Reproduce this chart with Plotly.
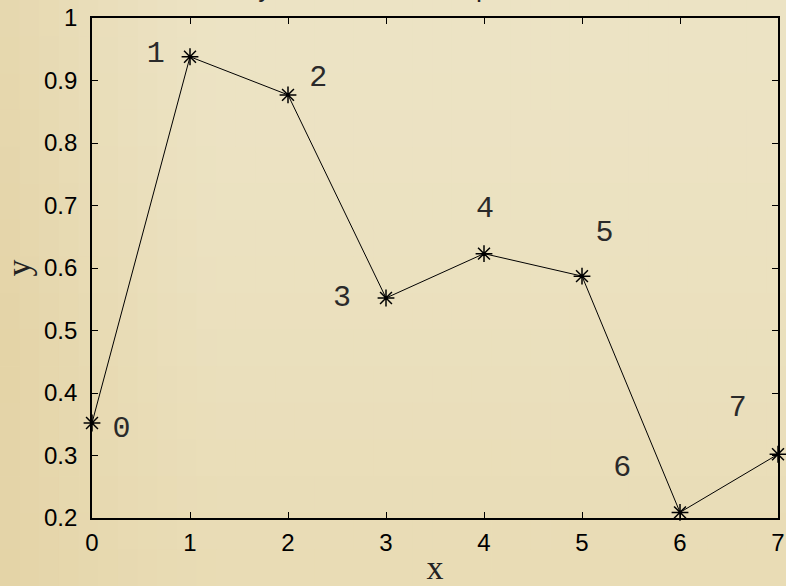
import plotly.graph_objects as go

# data: sample index vs. measured value
x_vals = [0, 1, 2, 3, 4, 5, 6, 7]
y_vals = [0.352, 0.938, 0.877, 0.552, 0.623, 0.587, 0.209, 0.302]
point_labels = ["0", "1", "2", "3", "4", "5", "6", "7"]

x_ticks = [0, 1, 2, 3, 4, 5, 6, 7]
y_ticks = [0.2, 0.3, 0.4, 0.5, 0.6, 0.7, 0.8, 0.9, 1.0]
y_tick_text = ["0.2", "0.3", "0.4", "0.5", "0.6", "0.7", "0.8", "0.9", "1"]

# where each index label sits relative to its point (styling offsets)
label_dx = [0.30, -0.35, 0.31, -0.45, 0.01, 0.23, -0.59, -0.41]
label_dy = [-0.011, 0.003, 0.027, 0.0, 0.070, 0.069, 0.070, 0.074]

W, H = 786, 586
ML, MR, MT, MB = 92, 8, 18, 68
PW, PH = W - ML - MR, H - MT - MB


def hex2rgb(h):
    h = h.lstrip("#")
    return [int(h[i:i + 2], 16) for i in (0, 2, 4)]


def mix(a, b, t):
    return [a[i] + (b[i] - a[i]) * t for i in range(3)]


light = hex2rgb("#ECE3C4")
tan_left = hex2rgb("#E2D0A0")
tan_bottom = hex2rgb("#E7D8AD")


def bg_color(px, py):
    c = light
    tb = (py / H) ** 1.6
    c = mix(c, tan_bottom, 0.7 * tb)
    tl = max(0.0, 1.0 - px / 220.0) ** 1.4
    c = mix(c, tan_left, 0.8 * tl * (0.6 + 0.4 * (1 - abs(py / H - 0.6))))
    return "rgb(%d,%d,%d)" % tuple(round(v) for v in c)


# soft beige backdrop built from small tiles
shapes = []
ncol, nrow = 40, 16
for i in range(ncol):
    for j in range(nrow):
        px0, px1 = W * i / ncol, W * (i + 1) / ncol
        py0, py1 = H * j / nrow, H * (j + 1) / nrow
        shapes.append(dict(
            type="rect", xref="paper", yref="paper", layer="below",
            x0=(px0 - ML) / PW, x1=(px1 + 0.6 - ML) / PW,
            y0=(H - MB - py1 - 0.6) / PH, y1=(H - MB - py0) / PH,
            line=dict(width=0),
            fillcolor=bg_color((px0 + px1) / 2, (py0 + py1) / 2),
        ))

fig = go.Figure()

fig.add_trace(go.Scatter(
    x=x_vals, y=y_vals, mode="lines+markers",
    line=dict(color="black", width=1),
    marker=dict(symbol="asterisk", size=14, color="black",
                line=dict(color="black", width=1.5)),
    cliponaxis=False, showlegend=False, hoverinfo="x+y",
))

fig.add_trace(go.Scatter(
    x=[xv + d for xv, d in zip(x_vals, label_dx)],
    y=[yv + d for yv, d in zip(y_vals, label_dy)],
    text=point_labels, mode="text",
    textfont=dict(family="Liberation Mono", size=30, color="#2a2a2a"),
    cliponaxis=False, showlegend=False, hoverinfo="skip",
))

axis_font = dict(family="Liberation Sans", size=24, color="black")
title_font = dict(family="Liberation Serif", size=34, color="#222222")

fig.update_layout(
    width=W, height=H, autosize=False,
    margin=dict(l=ML, r=MR, t=MT, b=MB, pad=0),
    paper_bgcolor="#EAE0BF", plot_bgcolor="rgba(0,0,0,0)",
    shapes=shapes,
    xaxis=dict(
        range=[0, 7], tickvals=x_ticks, ticks="inside", ticklen=6,
        tickcolor="black", showline=True, linecolor="black", linewidth=1.6,
        mirror="ticks", showgrid=False, zeroline=False, tickfont=axis_font,
        ticklabelstandoff=2, automargin=False,
        title=dict(text="x", standoff=9, font=title_font),
    ),
    yaxis=dict(
        range=[0.2, 1.0], tickvals=y_ticks, ticktext=y_tick_text,
        ticks="inside", ticklen=6, tickcolor="black", showline=True,
        linecolor="black", linewidth=1.6, mirror="ticks", showgrid=False,
        zeroline=False, tickfont=axis_font, ticklabelstandoff=8,
        automargin=False,
        title=dict(text="y", standoff=10, font=title_font),
    ),
    annotations=[dict(
        text="Data y with marked points", xref="paper", yref="paper",
        x=(177 - ML) / PW, y=1 + (MT - 7) / PH, xanchor="left", yanchor="bottom",
        showarrow=False,
        font=dict(family="Liberation Mono", size=26, color="#222222"),
    )],
)

fig.write_html("out.html")
